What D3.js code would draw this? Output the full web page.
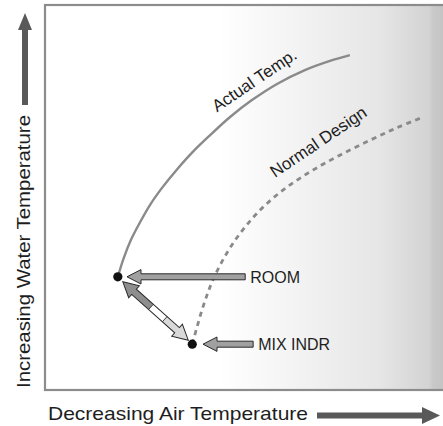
<!DOCTYPE html>
<html><head><meta charset="utf-8">
<script src="https://cdn.jsdelivr.net/npm/d3@7"></script>
<style>html,body{margin:0;padding:0;background:#fff;}svg{display:block;}</style>
</head><body>
<svg id="chart" width="443" height="426"></svg>
<script>
// ---- data (air: 0..100 left->right, water: 0..100 bottom->top) ----
const actualAir   = [18.3, 19.8, 21.6, 23.9, 26.4, 29.4, 33.0, 36.9, 41.5, 46.5, 52.0, 58.3, 65.3, 71.6, 76.6];
const actualWater = [29.4, 34.3, 39.0, 43.6, 48.1, 52.5, 57.1, 61.6, 66.2, 70.9, 75.3, 79.5, 83.1, 85.5, 87.0];
const designAir   = [37.0, 39.7, 42.2, 45.7, 49.7, 54.8, 60.8, 67.3, 74.1, 81.7, 88.4, 95.0];
const designWater = [11.9, 21.6, 28.6, 35.6, 41.6, 47.5, 52.7, 57.1, 61.0, 64.9, 68.1, 70.9];
const pointNames  = ["ROOM", "MIX INDR"];
const pointAir    = [18.3, 37.0];
const pointWater  = [29.4, 11.9];
const pointerFrom = [50.3, 52.3];   // tail of each horizontal pointer (air units)
const pointerTo   = [20.6, 39.7];   // tip of each horizontal pointer
const curveLabels = ["Actual Temp.", "Normal Design"];
const curveLabelAir   = [53.4, 69.5];
const curveLabelWater = [79.2, 63.2];
const curveLabelAngle = [-34, -34];
const xTitle = "Decreasing Air Temperature";
const yTitle = "Increasing Water Temperature";

const W = 443, H = 426;
const plot = {left: 45, top: 5, right: 443, bottom: 390};
const x = d3.scaleLinear().domain([0, 100]).range([plot.left, plot.right]);
const y = d3.scaleLinear().domain([0, 100]).range([plot.bottom, plot.top]);
const font = "'Liberation Sans', Arial, Helvetica, sans-serif";
const svg = d3.select("#chart");

// background gradient
const defs = svg.append("defs");
const g = defs.append("linearGradient").attr("id", "bg")
  .attr("gradientUnits", "userSpaceOnUse")
  .attr("x1", plot.left).attr("x2", plot.right).attr("y1", 0).attr("y2", 0);
[[0, "#ffffff"], [0.44, "#ffffff"], [0.84, "#e6e6e6"], [0.965, "#d3d3d3"], [0.975, "#c9c9c9"], [1, "#c4c4c4"]]
  .forEach(([o, c]) => g.append("stop").attr("offset", o).attr("stop-color", c));

svg.append("rect").attr("x", plot.left).attr("y", plot.top)
  .attr("width", plot.right - plot.left + 20).attr("height", plot.bottom - plot.top)
  .attr("fill", "url(#bg)").attr("stroke", "#8c8c8c").attr("stroke-width", 2.2);

// curves
const line = d3.line().x(d => x(d[0])).y(d => y(d[1])).curve(d3.curveCatmullRom.alpha(0.5));
svg.append("path").datum(d3.zip(actualAir, actualWater)).attr("d", line)
  .attr("fill", "none").attr("stroke", "#8a8a8a").attr("stroke-width", 2.4);
svg.append("path").datum(d3.zip(designAir, designWater)).attr("d", line)
  .attr("fill", "none").attr("stroke", "#8a8a8a").attr("stroke-width", 2.8)
  .attr("stroke-dasharray", "5,4.5");

// curve labels
curveLabels.forEach((t, i) => {
  svg.append("text").text(t)
    .attr("transform", `translate(${x(curveLabelAir[i])},${y(curveLabelWater[i])}) rotate(${curveLabelAngle[i]})`)
    .attr("text-anchor", "middle").attr("font-family", font).attr("font-size", 17).attr("fill", "#1e1e1e");
});

// double arrow between ROOM and MIX INDR
(function () {
  const x1 = x(pointAir[0]) + 5, y1 = y(pointWater[0]) + 5;
  const x2 = x(pointAir[1]) - 4, y2 = y(pointWater[1]) - 4;
  const L = Math.hypot(x2 - x1, y2 - y1), ang = Math.atan2(y2 - y1, x2 - x1) * 180 / Math.PI;
  const h = 15, hw = 8, sw = 3.5, a = 0.43 * L, b = 0.64 * L;
  const grp = svg.append("g").attr("transform", `translate(${x1},${y1}) rotate(${ang})`);
  const poly = pts => pts.map(p => p.join(",")).join(" ");
  grp.append("polygon").attr("points", poly([[0,0],[h,hw],[h,sw],[a,sw],[a,-sw],[h,-sw],[h,-hw]])).attr("fill", "#8e8e8e");
  grp.append("polygon").attr("points", poly([[a,sw],[b,sw],[b,-sw],[a,-sw]])).attr("fill", "#ffffff");
  grp.append("polygon").attr("points", poly([[b,sw],[L-h,sw],[L-h,hw],[L,0],[L-h,-hw],[L-h,-sw],[b,-sw]])).attr("fill", "#d9d9d9");
  grp.append("polygon").attr("points", poly([[0,0],[h,hw],[h,sw],[L-h,sw],[L-h,hw],[L,0],[L-h,-hw],[L-h,-sw],[h,-sw],[h,-hw]]))
    .attr("fill", "none").attr("stroke", "#2a2a2a").attr("stroke-width", 1).attr("stroke-linejoin", "miter");
  grp.append("line").attr("x1", a).attr("x2", a).attr("y1", -sw).attr("y2", sw).attr("stroke", "#2a2a2a").attr("stroke-width", 0.8);
  grp.append("line").attr("x1", b).attr("x2", b).attr("y1", -sw).attr("y2", sw).attr("stroke", "#2a2a2a").attr("stroke-width", 0.8);
})();

// horizontal pointers, dots and labels
pointNames.forEach((name, i) => {
  const yy = y(pointWater[i]);
  const tail = x(pointerFrom[i]), tip = x(pointerTo[i]);
  const h = 14, hw = 7.2, sw = 3;
  const pts = [[tip, yy], [tip + h, yy - hw], [tip + h, yy - sw], [tail, yy - sw], [tail, yy + sw], [tip + h, yy + sw], [tip + h, yy + hw]];
  svg.append("polygon").attr("points", pts.map(p => p.join(",")).join(" "))
    .attr("fill", "#a0a0a0").attr("stroke", "#2a2a2a").attr("stroke-width", 1);
  svg.append("circle").attr("cx", x(pointAir[i])).attr("cy", yy).attr("r", 4.6).attr("fill", "#111");
  svg.append("text").text(name).attr("x", tail + 5).attr("y", yy + 6)
    .attr("font-family", font).attr("font-size", 16).attr("fill", "#1e1e1e");
});

// axis titles with arrows
svg.append("text").text(xTitle).attr("x", 48).attr("y", 420)
  .attr("font-family", font).attr("font-size", 19).attr("fill", "#1e1e1e")
  .attr("textLength", 260).attr("lengthAdjust", "spacingAndGlyphs");
svg.append("polygon").attr("points", [[317,412.5],[422,412.5],[422,407],[440,415.5],[422,424],[422,418.5],[317,418.5]].map(p => p.join(",")).join(" "))
  .attr("fill", "#595959");

svg.append("text").text(yTitle).attr("transform", "translate(30,388) rotate(-90)")
  .attr("font-family", font).attr("font-size", 19).attr("fill", "#1e1e1e")
  .attr("textLength", 273).attr("lengthAdjust", "spacingAndGlyphs");
svg.append("polygon").attr("points", [[22,105],[22,30],[18,30],[25,13],[32,30],[28,30],[28,105]].map(p => p.join(",")).join(" "))
  .attr("fill", "#595959");
</script>
</body></html>
